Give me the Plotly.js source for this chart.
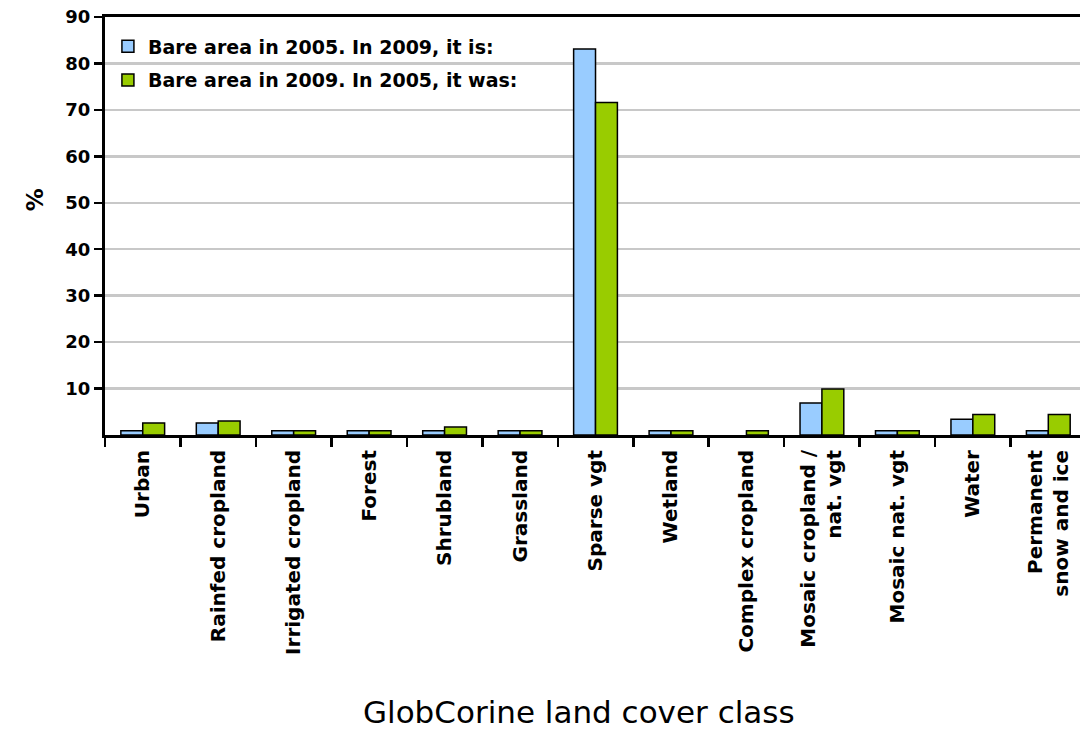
<!DOCTYPE html>
<html>
<head>
<meta charset="utf-8">
<script src="https://cdn.plot.ly/plotly-3.0.1.min.js"></script>
<style>body{margin:0;background:#fff}#chart{width:1080px;height:729px}</style>
</head>
<body>
<div id="chart"></div>
<script>
const categories = ["Urban", "Rainfed cropland", "Irrigated cropland", "Forest", "Shrubland", "Grassland", "Sparse vgt", "Wetland", "Complex cropland", "Mosaic cropland /<br>nat. vgt", "Mosaic nat. vgt", "Water", "Permanent<br>snow and ice"];
const bare2005 = [0.9, 2.6, 0.9, 0.9, 0.9, 0.9, 83.1, 0.9, 0, 6.9, 0.9, 3.4, 0.9];
const bare2009 = [2.6, 3.0, 0.9, 0.9, 1.7, 0.9, 71.6, 0.9, 0.9, 9.9, 0.9, 4.4, 4.4];
const yTicks = [10, 20, 30, 40, 50, 60, 70, 80, 90];
const seriesNames = ["Bare area in 2005. In 2009, it is:", "Bare area in 2009. In 2005, it was:"];

const boldFont = {family: "DejaVu Sans", weight: 700, color: "#000"};
const outline = vals => ({color: "#000", width: vals.map(v => v > 0 ? 1.5 : 0)});

const traces = [
  {type: "bar", x: categories, y: bare2005, name: seriesNames[0], legendgroup: "a",
   marker: {color: "#99CCFF", line: outline(bare2005)}},
  {type: "bar", x: categories, y: bare2009, name: seriesNames[1], legendgroup: "b",
   marker: {color: "#99CC00", line: outline(bare2009)}}
];

const layout = {
  width: 1080, height: 729,
  margin: {l: 105, r: 0, t: 17, b: 294},
  paper_bgcolor: "#fff", plot_bgcolor: "#fff",
  barmode: "group", bargap: 0.42, bargroupgap: 0,
  showlegend: true,
  legend: {x: 0.003, xanchor: "left", y: 0.975, yanchor: "top",
           bgcolor: "rgba(0,0,0,0)", traceorder: "grouped", tracegroupgap: 6,
           font: Object.assign({size: 19}, boldFont)},
  xaxis: {
    type: "category", range: [-0.5, 12.42],
    tickson: "boundaries", ticks: "outside", ticklen: 9, tickwidth: 2.5, tickcolor: "#000",
    showline: true, linecolor: "#000", linewidth: 3, mirror: true,
    showgrid: false, tickangle: -90, ticklabelstandoff: 4,
    tickfont: Object.assign({size: 20}, boldFont)
  },
  yaxis: {
    range: [0, 90], tickvals: yTicks, ticks: "outside", ticklen: 8, tickwidth: 2.5, tickcolor: "#000",
    showline: true, linecolor: "#000", linewidth: 3,
    showgrid: true, gridcolor: "#c8c8c8", gridwidth: 2.5, zeroline: false,
    tickfont: Object.assign({size: 18}, boldFont)
  },
  annotations: [
    {text: "%", xref: "paper", yref: "paper", x: -0.087, y: 0.562, showarrow: false,
     textangle: -90, font: Object.assign({size: 23}, boldFont)},
    {text: "GlobCorine land cover class", xref: "paper", yref: "paper", x: 0.486, y: 0,
     yshift: -277, yanchor: "middle", showarrow: false,
     font: {family: "DejaVu Sans", size: 31, color: "#000"}}
  ]
};

Plotly.newPlot("chart", traces, layout, {displayModeBar: false, staticPlot: true});
</script>
</body>
</html>
